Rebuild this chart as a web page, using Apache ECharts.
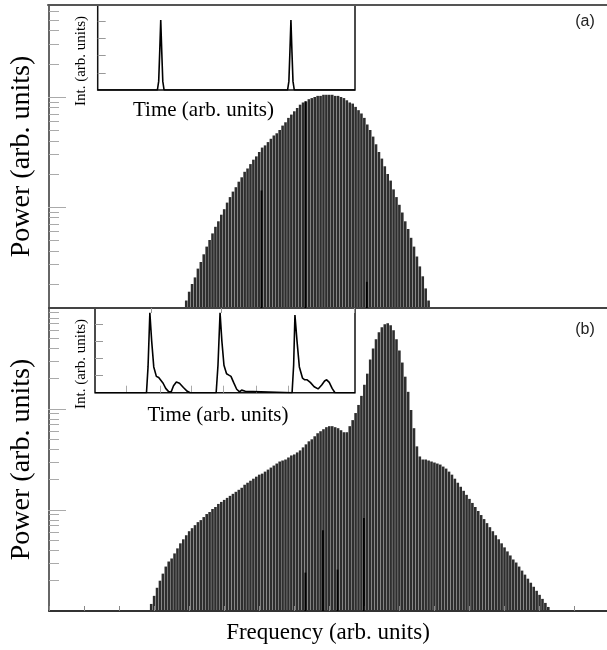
<!DOCTYPE html>
<html><head><meta charset="utf-8">
<script src="https://cdn.jsdelivr.net/npm/echarts@6/dist/echarts.min.js"></script>
<style>html,body{margin:0;padding:0;background:#fff}#c{width:607px;height:650px}</style>
</head><body><div id="c"></div>
<script>
// ---------- DATA ----------
// Comb-line index axis (frequency, arb. units); one comb line per integer index
const FREQ_MAX = 191.1;
const FREQ_TICK = 12;

// Panel (a): comb lines from index 47, power in dB (relative)
const combStartA = 47;
const powerA_dB = [
  1.5,2.3,3.0,3.6,4.4,5.0,5.7,6.4,7.0,7.6,
  8.2,8.7,9.3,9.8,10.4,10.9,11.4,11.8,12.3,12.7,
  13.2,13.5,13.9,14.3,14.6,15.0,15.4,15.6,15.9,16.2,
  16.5,16.7,17.0,17.4,17.7,18.1,18.4,18.7,19.0,19.3,
  19.5,19.6,19.8,19.9,20.0,20.1,20.1,20.2,20.2,20.2,
  20.2,20.1,20.1,20.0,19.9,19.7,19.5,19.4,19.1,18.8,
  18.5,18.1,17.5,17.0,16.4,15.7,15.0,14.4,13.7,13.0,
  12.4,11.6,10.9,10.2,9.5,8.7,8.0,7.2,6.4,5.5,
  4.6,3.7,2.6,1.5
];
// darker (overlapping) lines visible in panel (a): [index, dB]
const darkLinesA = [[73, 11.5], [88, 19.6], [109, 3.2]];

// Panel (b): comb lines from index 35, power in dB (relative)
const combStartB = 35;
const powerB_dB = [
  0.7,1.5,2.3,3.0,3.7,4.4,4.9,5.2,5.7,6.2,
  6.7,7.1,7.5,7.9,8.2,8.5,8.8,9.0,9.3,9.6,
  9.8,10.1,10.3,10.6,10.8,11.0,11.2,11.4,11.6,11.8,
  12.0,12.2,12.5,12.7,12.9,13.1,13.3,13.5,13.6,13.8,
  14.0,14.2,14.4,14.6,14.8,14.9,15.0,15.2,15.4,15.5,
  15.7,15.9,16.2,16.5,16.8,17.0,17.3,17.6,17.8,18.0,
  18.2,18.3,18.3,18.2,18.1,17.9,17.7,17.7,18.3,18.9,
  19.6,20.4,21.3,22.4,23.5,24.9,26.0,26.9,27.6,28.1,
  28.4,28.5,28.3,27.8,26.9,25.8,24.6,23.2,21.7,19.9,
  18.1,16.3,15.3,15.0,15.0,14.9,14.8,14.7,14.6,14.5,
  14.3,14.1,13.8,13.5,13.1,12.7,12.3,11.9,11.5,11.1,
  10.7,10.3,9.9,9.5,9.1,8.7,8.3,7.9,7.5,7.1,
  6.7,6.3,5.9,5.5,5.1,4.8,4.4,4.0,3.6,3.2,
  2.8,2.4,2.0,1.6,1.2,0.8,0.4
];
const darkLinesB = [[88, 3.8], [94, 8.0], [99, 4.1], [108, 9.2]];

// Insets: time (0..100 arb.) vs intensity
const pulseA = [[0,0],[23.2,0],[23.7,0.5],[24.1,2.2],[24.5,4.07],[24.9,2.2],[25.3,0.5],[25.8,0],
  [73.8,0],[74.3,0.5],[74.7,2.2],[75.1,4.07],[75.5,2.2],[75.9,0.5],[76.4,0],[100,0]];
const pulseB = [[0,0],[19.8,0],[20.4,1.5],[21.1,4.65],[21.8,3.0],[22.6,1.5],[23.6,0.95],[24.5,0.88],
  [25.2,0.82],[26.2,0.55],[27.2,0.25],[28.4,0.05],[29.3,0.05],[30.2,0.4],[31.3,0.62],[32.5,0.55],
  [34.0,0.3],[35.5,0.08],[36.6,0],
  [46.6,0],[47.3,1.6],[48.1,4.65],[48.8,3.0],[49.6,1.6],[50.6,1.1],[51.5,1.02],[52.3,0.95],
  [53.3,0.6],[54.5,0.2],[55.6,0.05],[56.4,0.15],[57.1,0.2],[57.8,0.08],[58.5,0],
  [75.8,0],[76.4,1.6],[76.9,4.52],[77.7,3.0],[78.6,1.5],[79.8,0.85],[80.7,0.75],[81.6,0.75],
  [82.8,0.6],[84.3,0.35],[85.8,0.22],[87.2,0.45],[88.3,0.68],[89.1,0.75],[90.1,0.6],[91.2,0.25],
  [92.3,0],[100,0]];
const insetTicksB = [12.2, 25.0, 37.2, 49.3, 62.2, 74.3];
const insetYTicks = [1, 2, 3, 4];
const sepTicks = [35, 59, 104.5];
const majorDB = [10, 20];

// ---------- BUILD ----------
function combData(start, vals) { return vals.map((v, i) => [start + i, v]); }
function minorTicks(lo, hi) {
  const out = [];
  for (let d = 0; d < 3; d++) for (let m = 2; m <= 9; m++) {
    const v = 10 * d + 10 * Math.log10(m);
    if (v > lo && v < hi) out.push(v);
  }
  return out;
}
const A_MIN = 0.82, A_MAX = 28.36, B_MIN = 0, B_MAX = 30;
const serif = 'Liberation Serif';
const hidden = { show: false };
const noSplit = { show: false };
const COMB_COLOR = '#2e2e2e';
const COMB_W = 2.6;

const chart = echarts.init(document.getElementById('c'), null, { renderer: 'canvas' });
chart.setOption({
  animation: false,
  backgroundColor: '#fff',
  grid: [
    { left: 48, top: 5, width: 559, height: 303 },
    { left: 48, top: 308, width: 559, height: 303 },
    { left: 48, top: 5, width: 559, height: 303 },
    { left: 48, top: 308, width: 559, height: 303 },
    { left: 97.7, top: 5, width: 257.3, height: 85, show: true, borderColor: '#111', borderWidth: 1.5, backgroundColor: 'transparent' },
    { left: 95, top: 308.3, width: 260, height: 84.4, show: true, borderColor: '#111', borderWidth: 1.5, backgroundColor: 'transparent' }
  ],
  xAxis: [
    { gridIndex: 0, type: 'value', min: 0, max: FREQ_MAX, position: 'bottom', z: 3,
      axisLine: { show: true, onZero: false, lineStyle: { color: '#444', width: 2 } },
      axisTick: { show: true, customValues: sepTicks, inside: false, length: 5, lineStyle: { color: '#999' } },
      axisLabel: hidden, splitLine: noSplit },
    { gridIndex: 1, type: 'value', min: 0, max: FREQ_MAX, interval: FREQ_TICK, position: 'bottom', z: 3,
      axisLine: { show: true, onZero: false, lineStyle: { color: '#333', width: 2 } },
      axisTick: { show: true, inside: true, length: 5, lineStyle: { color: '#888' } },
      axisLabel: hidden, splitLine: noSplit,
      name: 'Frequency (arb. units)', nameLocation: 'middle', nameGap: 10,
      nameTextStyle: { fontFamily: serif, fontSize: 23, color: '#000' } },
    { gridIndex: 2, type: 'value', min: 0, max: FREQ_MAX, position: 'top', z: 3,
      axisLine: { show: true, onZero: false, lineStyle: { color: '#555', width: 2 } },
      axisTick: hidden, axisLabel: hidden, splitLine: noSplit },
    { gridIndex: 3, type: 'value', min: 0, max: FREQ_MAX, show: false },
    { gridIndex: 4, type: 'value', min: 0, max: 100,
      axisLine: { show: false }, axisTick: hidden, axisLabel: hidden, splitLine: noSplit },
    { gridIndex: 5, type: 'value', min: 0, max: 100,
      axisLine: { show: false },
      axisTick: { show: true, customValues: insetTicksB, inside: true, length: 7, lineStyle: { color: '#aaa' } },
      axisLabel: hidden, splitLine: noSplit }
  ],
  yAxis: [
    { gridIndex: 0, type: 'value', min: A_MIN, max: A_MAX, z: 3,
      axisLine: { show: true, onZero: false, lineStyle: { color: '#333', width: 1.5 } },
      axisTick: { show: true, customValues: minorTicks(A_MIN, A_MAX), inside: true, length: 10, lineStyle: { color: '#aaa' } },
      axisLabel: hidden, splitLine: noSplit,
      name: 'Power (arb. units)', nameLocation: 'middle', nameGap: 13, nameRotate: 90,
      nameTextStyle: { fontFamily: serif, fontSize: 28, color: '#000' } },
    { gridIndex: 1, type: 'value', min: B_MIN, max: B_MAX, z: 3,
      axisLine: { show: true, onZero: false, lineStyle: { color: '#333', width: 1.5 } },
      axisTick: { show: true, customValues: minorTicks(B_MIN, B_MAX), inside: true, length: 10, lineStyle: { color: '#aaa' } },
      axisLabel: hidden, splitLine: noSplit,
      name: 'Power (arb. units)', nameLocation: 'middle', nameGap: 13, nameRotate: 90,
      nameTextStyle: { fontFamily: serif, fontSize: 28, color: '#000' } },
    { gridIndex: 2, type: 'value', min: A_MIN, max: A_MAX, z: 3,
      axisLine: { show: false },
      axisTick: { show: true, customValues: majorDB, inside: true, length: 18, lineStyle: { color: '#aaa' } },
      axisLabel: hidden, splitLine: noSplit },
    { gridIndex: 3, type: 'value', min: B_MIN, max: B_MAX, z: 3,
      axisLine: { show: false },
      axisTick: { show: true, customValues: majorDB, inside: true, length: 18, lineStyle: { color: '#aaa' } },
      axisLabel: hidden, splitLine: noSplit },
    { gridIndex: 4, type: 'value', min: 0, max: 4.94,
      axisLine: { show: false },
      axisTick: { show: true, customValues: insetYTicks, inside: true, length: 8, lineStyle: { color: '#999' } },
      axisLabel: hidden, splitLine: noSplit },
    { gridIndex: 5, type: 'value', min: 0, max: 4.91,
      axisLine: { show: false },
      axisTick: { show: true, customValues: insetYTicks, inside: true, length: 8, lineStyle: { color: '#999' } },
      axisLabel: hidden, splitLine: noSplit }
  ],
  series: [
    { type: 'bar', xAxisIndex: 0, yAxisIndex: 0, data: combData(combStartA, powerA_dB),
      barWidth: COMB_W, itemStyle: { color: COMB_COLOR }, silent: true },
    { type: 'bar', xAxisIndex: 2, yAxisIndex: 2, data: darkLinesA,
      barWidth: 1.8, itemStyle: { color: '#000' }, silent: true, z: 4 },
    { type: 'bar', xAxisIndex: 1, yAxisIndex: 1, data: combData(combStartB, powerB_dB),
      barWidth: COMB_W, itemStyle: { color: COMB_COLOR }, silent: true },
    { type: 'bar', xAxisIndex: 3, yAxisIndex: 3, data: darkLinesB,
      barWidth: 1.8, itemStyle: { color: '#000' }, silent: true, z: 4 },
    { type: 'line', xAxisIndex: 4, yAxisIndex: 4, data: pulseA, showSymbol: false,
      lineStyle: { color: '#000', width: 1.6 }, silent: true },
    { type: 'line', xAxisIndex: 5, yAxisIndex: 5, data: pulseB, showSymbol: false,
      lineStyle: { color: '#000', width: 1.6 }, silent: true }
  ],
  graphic: [
    { type: 'text', x: 203.5, y: 110, z: 100, silent: true,
      style: { text: 'Time (arb. units)', font: '21px "Liberation Serif"', fill: '#000', align: 'center', verticalAlign: 'middle' } },
    { type: 'text', x: 81, y: 61, rotation: Math.PI / 2, z: 100, silent: true,
      style: { text: 'Int. (arb. units)', font: '15px "Liberation Serif"', fill: '#000', align: 'center', verticalAlign: 'middle' } },
    { type: 'text', x: 218, y: 415, z: 100, silent: true,
      style: { text: 'Time (arb. units)', font: '21px "Liberation Serif"', fill: '#000', align: 'center', verticalAlign: 'middle' } },
    { type: 'text', x: 81, y: 364, rotation: Math.PI / 2, z: 100, silent: true,
      style: { text: 'Int. (arb. units)', font: '15px "Liberation Serif"', fill: '#000', align: 'center', verticalAlign: 'middle' } },
    { type: 'text', x: 585, y: 22, z: 100, silent: true,
      style: { text: '(a)', font: '16px "Liberation Sans"', fill: '#222', align: 'center', verticalAlign: 'middle' } },
    { type: 'text', x: 585, y: 330, z: 100, silent: true,
      style: { text: '(b)', font: '16px "Liberation Sans"', fill: '#222', align: 'center', verticalAlign: 'middle' } }
  ]
});
</script></body></html>
